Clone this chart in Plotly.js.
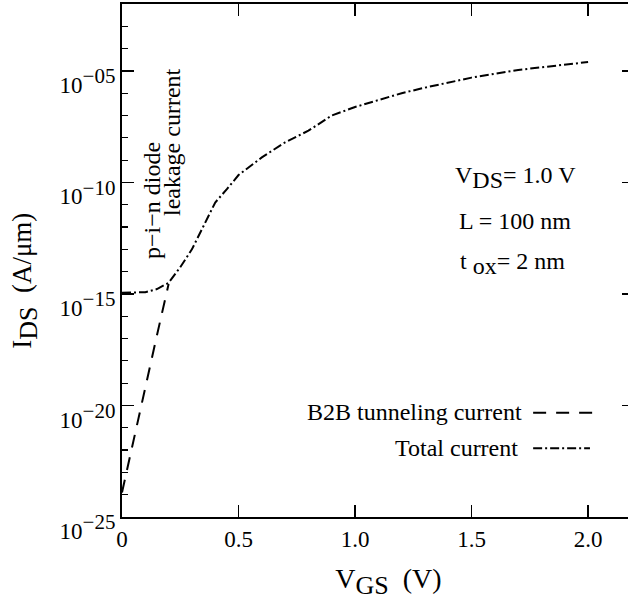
<!DOCTYPE html>
<html><head><meta charset="utf-8">
<script src="https://cdn.plot.ly/plotly-3.0.1.min.js"></script>
<style>html,body{margin:0;padding:0;background:#fff;overflow:hidden}</style>
</head>
<body>
<div id="chart" style="width:634px;height:611px"></div>
<script>
// Total current (A/um) vs V_GS (V)
const vgsTotal = [0, 0.1, 0.15, 0.2, 0.25, 0.3, 0.35, 0.4, 0.45, 0.5, 0.6, 0.7, 0.8, 0.9, 1.0, 1.2, 1.3, 1.5, 1.7, 2.0];
const idsTotal = [1.12e-15, 1.2e-15, 1.66e-15, 3.16e-15, 1.58e-14, 1.0e-13, 1.12e-12, 1.26e-11, 5.0e-11, 2.14e-10, 1.32e-9, 6.3e-9, 2.09e-8, 1.0e-7, 2.4e-7, 1.0e-6, 1.78e-6, 5.0e-6, 1.1e-5, 2.5e-5];
// B2B tunneling current
const vgsB2B = [0, 0.025, 0.05, 0.1, 0.15, 0.2];
const idsB2B = [1.26e-24, 2.0e-23, 3.16e-22, 7.9e-20, 1.41e-17, 2.8e-15];

const yTickVals = [1e-25, 1e-20, 1e-15, 1e-10, 1e-5];
const yTickExp = ['−25', '−20', '−15', '−10', '−05'];
const yMinorVals = [1e-24,1e-23,1e-22,1e-21,1e-19,1e-18,1e-17,1e-16,1e-14,1e-13,1e-12,1e-11,1e-9,1e-8,1e-7,1e-6,1e-4,1e-3];
const xTickVals = [0, 0.5, 1.0, 1.5, 2.0];
const xTickText = ['0', '0.5', '1.0', '1.5', '2.0'];

const seriesNames = ['B2B tunneling current', 'Total current'];

const FONT = 'Liberation Serif, Times New Roman, serif';
const dashB2B = '13px,10px';
const dashTotal = '9px,3px,2px,3px';

const traces = [
  {x: vgsB2B, y: idsB2B, mode: 'lines', name: seriesNames[0],
   line: {color: '#000', width: 2, dash: dashB2B}, showlegend: false},
  {x: vgsTotal, y: idsTotal, mode: 'lines', name: seriesNames[1],
   line: {color: '#000', width: 2, dash: dashTotal}, showlegend: false}
];

const ann = (text, x, y, extra) => Object.assign({
  text, x, y, xref: 'paper', yref: 'paper', showarrow: false,
  font: {family: FONT, size: 24, color: '#000'}, xanchor: 'center', yanchor: 'middle'
}, extra || {});

const layout = {
  width: 634, height: 611,
  margin: {l: 122, r: 0, t: 4, b: 94},
  paper_bgcolor: '#fff', plot_bgcolor: '#fff',
  font: {family: FONT, size: 23, color: '#000'},
  showlegend: false,
  xaxis: {
    range: [0, 2.197], showgrid: false, zeroline: false,
    showline: true, linecolor: '#000', linewidth: 2, mirror: 'ticks',
    ticks: 'inside', ticklen: 12, tickwidth: 1.5, tickcolor: '#000',
    tickmode: 'array', tickvals: xTickVals, ticktext: xTickText,
    tickfont: {family: FONT, size: 23, color: '#000'},
    title: {text: '&nbsp;&nbsp;&nbsp;V<sub><span style="font-size:26px">GS</span></sub>  (V)', font: {family: FONT, size: 28, color: '#000'}, standoff: 18}
  },
  yaxis: {
    type: 'log', range: [-25, -2], showgrid: false, zeroline: false,
    showline: true, linecolor: '#000', linewidth: 2, mirror: 'ticks',
    ticks: 'inside', ticklen: 12, tickwidth: 1.5, tickcolor: '#000',
    tickmode: 'array', tickvals: yTickVals,
    ticktext: yTickExp.map(e => '10<sup><span style="font-size:21px">' + e + '</span></sup>'),
    ticklabelshift: 14,
    tickfont: {family: FONT, size: 23, color: '#000'},
    minor: {tickmode: 'array', tickvals: yMinorVals, ticks: 'inside', ticklen: 6, tickwidth: 1.2, tickcolor: '#000', showgrid: false},
    title: {text: 'I<sub><span style="font-size:26px">DS</span></sub>  (A/μm)&nbsp;&nbsp;&nbsp;&nbsp;&nbsp;&nbsp;', font: {family: FONT, size: 27, color: '#000'}, standoff: 20}
  },
  annotations: [
    ann('p−i−n diode', 0.0586, 0.616, {textangle: -90}),
    ann('leakage current', 0.0977, 0.731, {textangle: -90}),
    ann('V<sub><span style="font-size:24px">DS</span></sub>= 1.0 V', 0.768, 0.661),
    ann('L = 100 nm', 0.768, 0.577),
    ann('t<sub><span style="font-size:24px"> ox</span></sub>= 2 nm', 0.762, 0.495),
    ann(seriesNames[0], 0.785, 0.205, {xanchor: 'right'}),
    ann(seriesNames[1], 0.777, 0.1345, {xanchor: 'right'})
  ],
  shapes: [
    {type: 'line', xref: 'paper', yref: 'paper', x0: 0.803, x1: 0.924, y0: 0.203, y1: 0.203,
     line: {color: '#000', width: 2, dash: dashB2B}},
    {type: 'line', xref: 'paper', yref: 'paper', x0: 0.803, x1: 0.914, y0: 0.134, y1: 0.134,
     line: {color: '#000', width: 2, dash: dashTotal}}
  ]
};

Plotly.newPlot('chart', traces, layout, {staticPlot: true, displayModeBar: false});
</script>
</body></html>
